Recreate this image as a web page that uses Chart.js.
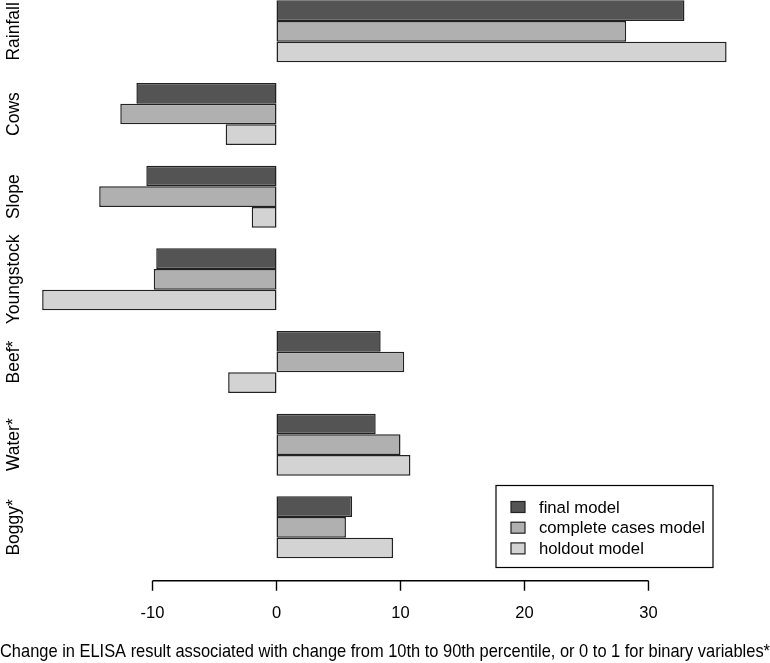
<!DOCTYPE html>
<html lang="en">
<head>
    <meta charset="UTF-8">
    <title>ELISA change by variable</title>
    <script src="https://cdn.jsdelivr.net/npm/chart.js@4.4.1/dist/chart.umd.min.js"></script>
    <style>
        html, body {
            margin: 0;
            padding: 0;
            background: #fff;
        }

        .wrap {
            position: relative;
            width: 770px;
            height: 663px;
            overflow: hidden;
        }

        .wrap canvas {
            position: absolute;
            left: 0;
            top: -10px;
        }
    </style>
</head>
<body>
    <div class="wrap">
        <canvas id="effectChart" width="770" height="673"></canvas>
    </div>

    <script>
        // variables, top to bottom
        const categories = ['Rainfall', 'Cows', 'Slope', 'Youngstock', 'Beef*', 'Water*', 'Boggy*'];

        const finalModel    = [32.9, -11.3, -10.5, -9.7, 8.4, 8.0, 6.1];
        const completeCases = [28.2, -12.6, -14.3, -9.9, 10.3, 10.0, 5.6];
        const holdoutModel  = [36.3, -4.1, -2.0, -18.9, -3.9, 10.8, 9.4];

        const seriesNames = ['final model', 'complete cases model', 'holdout model'];
        const xTicks = [-10, 0, 10, 20, 30];
        const xTitle = 'Change in ELISA result associated with change from 10th to 90th percentile, or 0 to 1 for binary variables*';

        const FONT = "'Liberation Sans', Arial, sans-serif";
        const EDGE = '#222';

        // R-style axis: line only from first to last tick, offset below the plot
        const rAxis = {
            id: 'rAxis',
            afterDraw(chart) {
                const ctx = chart.ctx;
                const x = chart.scales.x;
                const y = chart.scales.y;
                const base = chart.chartArea.bottom + 12;
                ctx.save();
                ctx.strokeStyle = '#000';
                ctx.lineWidth = 1.4;
                ctx.beginPath();
                ctx.moveTo(x.getPixelForValue(xTicks[0]), base);
                ctx.lineTo(x.getPixelForValue(xTicks[xTicks.length - 1]), base);
                xTicks.forEach(t => {
                    const px = x.getPixelForValue(t);
                    ctx.moveTo(px, base);
                    ctx.lineTo(px, base + 10);
                });
                ctx.stroke();

                // rotated category labels
                ctx.fillStyle = '#000';
                ctx.font = '17.5px ' + FONT;
                ctx.textAlign = 'center';
                ctx.textBaseline = 'middle';
                categories.forEach((c, i) => {
                    ctx.save();
                    ctx.translate(14, y.getPixelForTick(i));
                    ctx.rotate(-Math.PI / 2);
                    ctx.fillText(c, 0, 0);
                    ctx.restore();
                });

                // boxed legend
                const bx = 496, by = 495.5, bw = 217, bh = 82;
                ctx.font = '16.7px ' + FONT;
                ctx.strokeStyle = '#000';
                ctx.lineWidth = 1.2;
                ctx.strokeRect(bx, by, bw, bh);
                ctx.textAlign = 'left';
                chart.data.datasets.forEach((ds, i) => {
                    const cy = by + 21.5 + i * 20.7;
                    ctx.fillStyle = ds.backgroundColor;
                    ctx.fillRect(bx + 15, cy - 5.5, 14, 11);
                    ctx.strokeStyle = EDGE;
                    ctx.lineWidth = 1.2;
                    ctx.strokeRect(bx + 15, cy - 5.5, 14, 11);
                    ctx.fillStyle = '#000';
                    ctx.fillText(ds.label, bx + 43, cy + 1);
                });
                ctx.restore();
            }
        };

        const fills = ['#545454', '#b0b0b0', '#d3d3d3'];
        const values = [finalModel, completeCases, holdoutModel];

        new Chart(document.getElementById('effectChart'), {
            type: 'bar',
            data: {
                labels: categories,
                datasets: values.map((v, i) => ({
                    label: seriesNames[i],
                    data: v,
                    backgroundColor: fills[i],
                    borderColor: EDGE,
                    borderWidth: 1.5,
                    borderSkipped: false,
                    barPercentage: 1.0,
                    categoryPercentage: 0.75
                }))
            },
            options: {
                indexAxis: 'y',
                responsive: false,
                animation: false,
                layout: {
                    padding: 0
                },
                plugins: {
                    legend: { display: false },
                    tooltip: { enabled: false }
                },
                scales: {
                    x: {
                        min: -22.3,
                        max: 39.8,
                        afterBuildTicks: axis => {
                            axis.ticks = xTicks.map(v => ({ value: v }));
                        },
                        afterFit: axis => {
                            axis.height = 94.3;
                        },
                        grid: { display: false, drawTicks: false },
                        border: { display: false },
                        ticks: {
                            padding: 35,
                            color: '#000',
                            font: { family: FONT, size: 16.5 }
                        },
                        title: {
                            display: true,
                            text: xTitle,
                            color: '#000',
                            padding: { top: 0, bottom: 0 },
                            font: { family: FONT, size: 17.9 }
                        }
                    },
                    y: {
                        display: false
                    }
                }
            },
            plugins: [rAxis]
        });
    </script>
</body>
</html>
